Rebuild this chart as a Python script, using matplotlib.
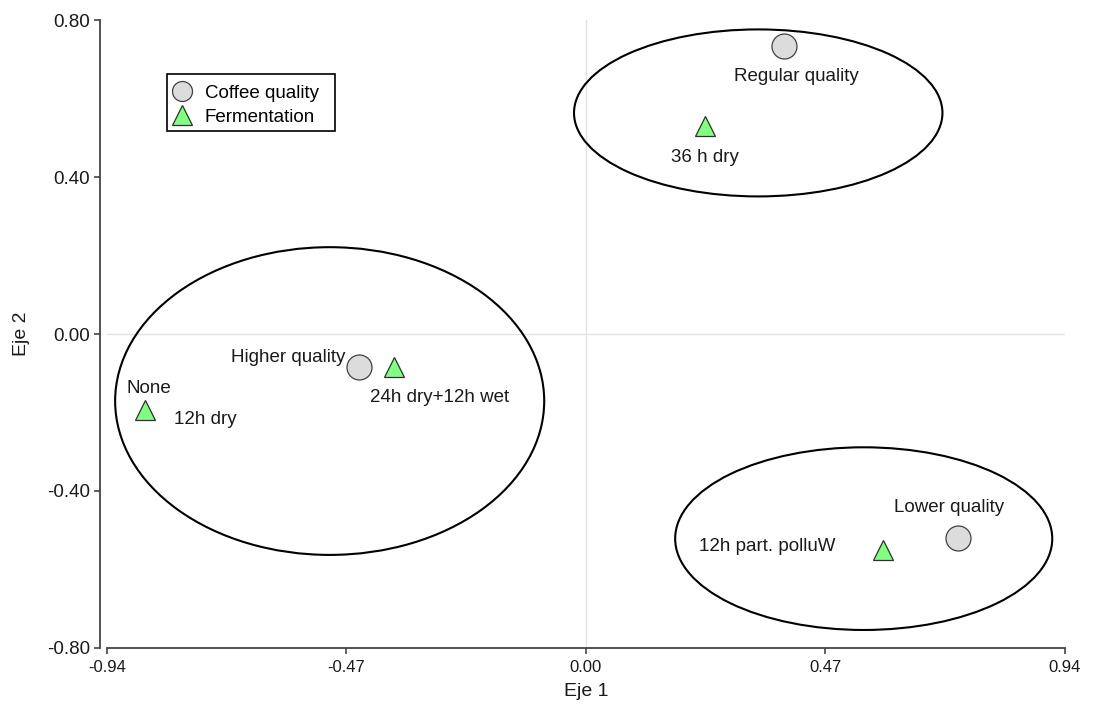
import matplotlib
matplotlib.use("Agg")
import matplotlib.pyplot as plt
from matplotlib.patches import Ellipse, Rectangle
from matplotlib.lines import Line2D

plt.rcParams["font.family"] = ["Liberation Sans", "DejaVu Sans"]

# coffee quality points (circles)
quality_labels = ["Regular quality", "Higher quality", "Lower quality"]
quality_x = [0.389, -0.445, 0.731]
quality_y = [0.735, -0.084, -0.521]

# fermentation points (triangles)
ferm_x = [0.2345, -0.376, -0.866, 0.583]
ferm_y = [0.530, -0.083, -0.195, -0.551]

# label anchor positions (data coords)
quality_text_xy = [(0.412, 0.658, "center"), (-0.473, -0.061, "right"), (0.713, -0.443, "center")]
text_items = [
    ("36 h dry", 0.2325, 0.449, "center"),
    ("24h dry+12h wet", -0.288, -0.163, "center"),
    ("None", -0.857, -0.140, "center"),
    ("12h dry", -0.747, -0.219, "center"),
    ("12h part. polluW", 0.355, -0.541, "center"),
]

# groups: center x, center y, width, height
ellipse_cx = [0.338, -0.503, 0.545]
ellipse_cy = [0.564, -0.171, -0.522]
ellipse_w = [0.723, 0.842, 0.740]
ellipse_h = [0.426, 0.785, 0.466]

x_ticks = [-0.94, -0.47, 0.0, 0.47, 0.94]
y_ticks = [-0.80, -0.40, 0.0, 0.40, 0.80]

fig = plt.figure(figsize=(10.95, 7.06), dpi=100)
ax = fig.add_axes([0.0977, 0.0827, 0.8749, 0.8884])

ax.set_xlim(-0.94, 0.94)
ax.set_ylim(-0.80, 0.80)

ax.axhline(0, color="#e3e3e3", lw=1, zorder=0)
ax.axvline(0, color="#e3e3e3", lw=1, zorder=0)

for cx, cy, w, h in zip(ellipse_cx, ellipse_cy, ellipse_w, ellipse_h):
    ax.add_patch(Ellipse((cx, cy), w, h, fill=False, edgecolor="black", lw=1.5, zorder=2))

circle_style = dict(marker="o", markerfacecolor="#dcdcdc",
                    markeredgecolor="#404040", markeredgewidth=0.9, linestyle="none")
tri_style = dict(marker="^", markerfacecolor="#80ff80",
                 markeredgecolor="#303030", markeredgewidth=0.9, linestyle="none")

ax.plot(quality_x, quality_y, markersize=18, zorder=3, **circle_style)
ax.plot(ferm_x, ferm_y, markersize=15, zorder=3, **tri_style)

for lab, (tx, ty, ha) in zip(quality_labels, quality_text_xy):
    ax.text(tx, ty, lab, ha=ha, va="center", fontsize=13.5, color="#1a1a1a", zorder=4)
for lab, tx, ty, ha in text_items:
    ax.text(tx, ty, lab, ha=ha, va="center", fontsize=13.5, color="#1a1a1a", zorder=4)

# legend: entries without frame, box drawn separately
handles = [Line2D([], [], label="Coffee quality", markersize=14.4, **circle_style),
           Line2D([], [], label="Fermentation", markersize=14.4, **tri_style)]
ax.legend(handles=handles, loc="center left", bbox_to_anchor=(0.068, 0.8648),
          borderaxespad=0, frameon=False, fontsize=13.5, labelspacing=0.37,
          handletextpad=0.75, borderpad=0, handlelength=1.0)
ax.add_patch(Rectangle((0.0623, 0.8237), 0.1757, 0.0908, transform=ax.transAxes,
                       fill=True, facecolor="white", edgecolor="black", lw=1.2, zorder=4.5))

for side in ("top", "right"):
    ax.spines[side].set_visible(False)
ax.spines["left"].set_position(("outward", 5))
ax.spines["left"].set_bounds(-0.80, 0.80)
ax.spines["bottom"].set_bounds(-0.94, 0.94)
for side in ("left", "bottom"):
    ax.spines[side].set_color("#444444")
    ax.spines[side].set_linewidth(1.3)

ax.set_xticks(x_ticks)
ax.set_yticks(y_ticks)
ax.set_xticklabels([f"{v:.2f}" for v in x_ticks])
ax.set_yticklabels([f"{v:.2f}" for v in y_ticks])
ax.tick_params(direction="out", length=4, width=1.2, color="#444444", labelcolor="#1a1a1a")
ax.tick_params(axis="x", labelsize=12, pad=5)
ax.tick_params(axis="y", labelsize=13.5, pad=3)

ax.set_xlabel("Eje 1", fontsize=14, color="#1a1a1a")
ax.set_ylabel("Eje 2", fontsize=14, color="#1a1a1a")
ax.xaxis.set_label_coords(0.5, -0.0564)
ax.yaxis.set_label_coords(-0.080, 0.5)

fig.savefig("out.png", dpi=100)
plt.close(fig)
